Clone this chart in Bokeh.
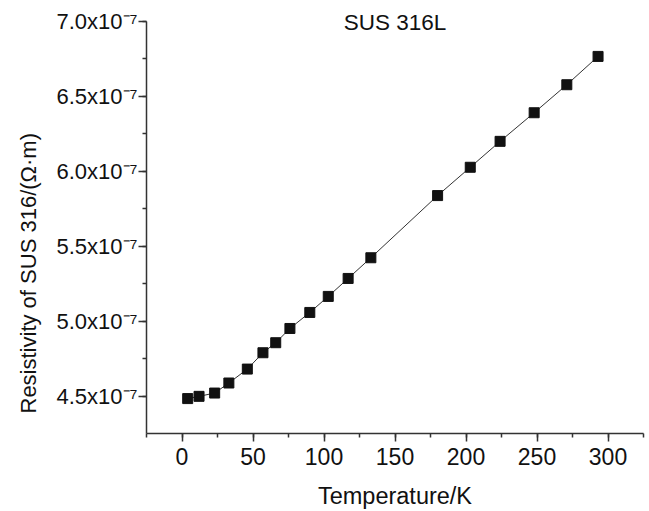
from bokeh.plotting import figure
from bokeh.models import (SingleIntervalTicker, CustomJSTickFormatter, Range1d, Title)
from bokeh.embed import file_html
from bokeh.resources import INLINE

title_text = "SUS 316L"
x_label = "Temperature/K"
y_label = "Resistivity of SUS 316/(\u03a9\u00b7m)"

temperature = [4, 12, 23, 33, 46, 57, 66, 76, 90, 103, 117, 133, 180, 203, 224, 248, 271, 293]
resistivity = [4.483e-7, 4.498e-7, 4.520e-7, 4.587e-7, 4.680e-7, 4.789e-7, 4.856e-7, 4.951e-7,
               5.058e-7, 5.165e-7, 5.285e-7, 5.423e-7, 5.838e-7, 6.027e-7, 6.200e-7, 6.391e-7,
               6.578e-7, 6.767e-7]

X_MIN, X_MAX = -25, 325
Y_MIN, Y_MAX = 4.25e-7, 7.0e-7

FONT = "Liberation Sans"
INK = "#111111"

p = figure(width=645, height=511, output_backend="svg", toolbar_location=None,
           x_range=Range1d(X_MIN, X_MAX), y_range=Range1d(Y_MIN, Y_MAX),
           min_border_left=145, min_border_right=2, min_border_top=21, min_border_bottom=78)
p.outline_line_color = None
p.xgrid.visible = False
p.ygrid.visible = False
p.background_fill_color = "white"

p.line(temperature, resistivity, line_color="#333333", line_width=1)
p.scatter(temperature, resistivity, marker="square", size=10, fill_color=INK, line_color=INK)

p.xaxis.ticker = SingleIntervalTicker(interval=50, num_minor_ticks=2)
p.yaxis.ticker = SingleIntervalTicker(interval=0.5e-7, num_minor_ticks=2)
p.yaxis.formatter = CustomJSTickFormatter(
    code="return (tick*1e7).toFixed(1) + 'x10\u207b\u2077';")

for ax in (p.xaxis[0], p.yaxis[0]):
    ax.axis_line_color = "#333333"
    ax.axis_line_width = 1.5
    ax.major_tick_line_color = "#333333"
    ax.minor_tick_line_color = "#333333"
    ax.major_tick_line_width = 1.5
    ax.minor_tick_line_width = 1.5
    ax.major_tick_in = 0
    ax.major_tick_out = 8
    ax.minor_tick_in = 0
    ax.minor_tick_out = 4
    ax.major_label_text_font = FONT
    ax.major_label_text_font_size = "23px"
    ax.major_label_text_color = INK
    ax.axis_label_text_font = FONT
    ax.axis_label_text_font_size = "23.5px"
    ax.axis_label_text_font_style = "normal"
    ax.axis_label_text_color = INK

p.yaxis.major_label_text_font_size = "22px"
p.yaxis.major_label_standoff = 1
p.xaxis.axis_label = x_label
p.xaxis.major_label_standoff = 6
p.xaxis.axis_label_standoff = 15

p.add_layout(Title(text=y_label, align="left", offset=20, vertical_align="bottom",
                   standoff=26, text_font=FONT, text_font_size="22px",
                   text_font_style="normal", text_color=INK), "left")

p.add_layout(Title(text=title_text, align="center", vertical_align="bottom",
                   standoff=-26, text_font=FONT, text_font_size="22.5px",
                   text_font_style="normal", text_color=INK), "above")

open("out.html", "w").write(file_html(p, INLINE))
